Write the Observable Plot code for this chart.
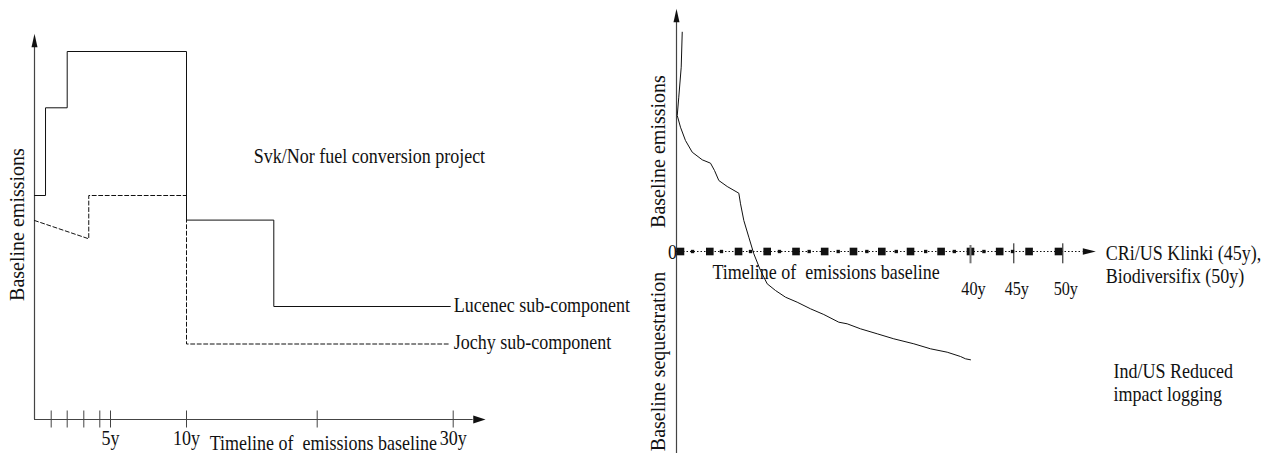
<!DOCTYPE html>
<html><head><meta charset="utf-8">
<script src="https://cdn.jsdelivr.net/npm/d3@7"></script>
<script src="https://cdn.jsdelivr.net/npm/@observablehq/plot@0.6"></script>
<style>
html,body{margin:0;padding:0;background:#fff;}
#wrap{display:flex;width:1279px;height:461px;overflow:hidden;}
svg text{white-space:pre;}
</style></head><body><div id="wrap"></div>
<script>
// ---------- LEFT CHART: Svk/Nor fuel conversion project (years, schematic emission units)
const leftBreakYears = [0, 1, 2, 3, 4, 5, 10, 20, 30];     // schematic (non-uniform) time axis
const leftTicks = [1, 2, 3, 4, 5, 10, 20, 30];
const leftTickLabels = [5, 10, 30];
const lucenecX = [0, 0.66, 2.0, 10, 16.68, 29.8];
const lucenecY = [22.4, 31.17, 36.8, 19.94, 11.3, 11.3];
const jochyX = [0, 3.31, 3.31, 10, 10, 29.8];
const jochyY = [19.9, 18.07, 22.4, 22.4, 7.55, 7.55];
const leftLabels = [
  {text: "Svk/Nor fuel conversion project", x: 15.15, y: 25.63},
  {text: "Lucenec sub-component", x: 30.04, y: 10.73},
  {text: "Jochy sub-component", x: 30.04, y: 7.07},
  {text: "Timeline of  emissions baseline", x: 11.78, y: -3.0}
];
const leftYTitle = {text: "Baseline emissions", x: -0.99, y: 19.5};
const leftAxisEnd = {xBase: 31.47, xTip: 32.38, yBase: 37.23, yTip: 38.57};

// ---------- RIGHT CHART: land-use projects (years, schematic emission / sequestration units)
const rightBreakYears = [0, 40, 45, 50];                    // schematic (non-uniform) time axis
const rightTickYears = [40, 45, 50];
const zeroSquares = [0.54, 4.53, 8.44, 12.34, 16.26, 20.16, 24.08, 27.93, 31.84, 36.0, 40, 43.37, 46.56, 49.56];
const zeroDots = [2.18, 6.12, 10.07, 14.01, 18.05, 22.0, 25.9, 29.9, 33.9, 37.8, 41.55, 44.85];
const loggingX = [0.78, 0.64, 0.31, 0.1, 0.54, 1.22, 2.14, 3.5, 4.63, 5.17, 5.76, 6.9, 8.48, 8.71, 9.16, 9.84, 10.52, 11.43, 12.34, 13.47, 14.83, 16.42, 18.23, 20.04, 22.08, 23.22, 25.03, 27.31, 29.56, 32.29, 34.56, 36.83, 38.64, 39.32, 40];
const loggingY = [21.93, 18.43, 15.43, 13.6, 12.43, 11.1, 9.93, 9.17, 8.83, 8.1, 7.1, 6.5, 5.83, 4.77, 3.1, 1.43, -0.23, -1.9, -3.23, -3.9, -4.57, -5.07, -5.73, -6.3, -7.07, -7.23, -7.73, -8.23, -8.73, -9.23, -9.73, -10.07, -10.5, -10.73, -10.83];
const rightZeroLabel = {text: "0", x: 0.07, y: -0.7};
const rightLabels = [
  {text: "Timeline of  emissions baseline", x: 4.9, y: -2.73},
  {text: "CRi/US Klinki (45y),", x: 54.39, y: -0.83},
  {text: "Biodiversifix (50y)", x: 54.39, y: -3.17},
  {text: "Ind/US Reduced", x: 55.17, y: -12.67},
  {text: "impact logging", x: 55.17, y: -14.9}
];
const rightYTitles = [
  {text: "Baseline emissions", x: -2.37, y: 10},
  {text: "Baseline sequestration", x: -2.37, y: -11}
];
const rightAxisEnd = {yBottom: -20.2, yBase: 22.93, yTip: 24.27, xBase: 52.04, xTip: 53.37};

// ---------- schematic time warps (years -> axis length units), used as Plot scale transforms
const leftWarp = d3.scaleLinear().domain(leftBreakYears).range([0, 16.7, 32.7, 49.3, 65.3, 76, 152, 282.7, 418.7]);
const rightWarp = d3.scaleLinear().domain(rightBreakYears).range([0, 294, 337.3, 386.3]);

// ---------- arrowhead symbols (filled triangles, tip at the point)
const arrowUp = {draw(ctx) { ctx.moveTo(0, 0); ctx.lineTo(3, 13.4); ctx.lineTo(-3, 13.4); ctx.closePath(); }};
const arrowRightL = {draw(ctx) { ctx.moveTo(0, 0); ctx.lineTo(-12.3, -4); ctx.lineTo(-12.3, 4); ctx.closePath(); }};
const arrowRightR = {draw(ctx) { ctx.moveTo(0, 0); ctx.lineTo(-13, -3.3); ctx.lineTo(-13, 3.3); ctx.closePath(); }};

const INK = "#111";
const AXIS = "#444";
const FONT = "Liberation Serif, Times New Roman, serif";

const left = Plot.plot({
  width: 640, height: 461,
  margin: 0,
  style: {fontFamily: FONT, fontSize: "20px", background: "white", color: INK, overflow: "visible"},
  x: {type: "linear", transform: leftWarp, domain: [0, 418.7], range: [34, 452.7], axis: null},
  y: {domain: [0, 40], range: [419, 19], axis: null},
  marks: [
    // axes
    Plot.ruleX([0], {x: d => d, y1: 0, y2: leftAxisEnd.yBase, stroke: AXIS, strokeWidth: 1.2}),
    Plot.ruleY([0], {x1: 0, x2: leftAxisEnd.xBase, stroke: AXIS, strokeWidth: 1.2}),
    Plot.dot([0], {x: 0, y: leftAxisEnd.yTip, symbol: arrowUp, fill: INK, stroke: null}),
    Plot.dot([0], {x: leftAxisEnd.xTip, y: 0, symbol: arrowRightL, fill: INK, stroke: null}),
    Plot.ruleX(leftTicks, {x: d => d, y1: -0.85, y2: 0.85, stroke: AXIS, strokeWidth: 1}),
    Plot.text(leftTickLabels, {x: d => d, y: 0, text: d => d + "y", dy: 25, lineAnchor: "bottom", fontSize: 20}),
    // series
    Plot.line(lucenecX, {x: lucenecX, y: lucenecY, curve: "step-after", stroke: INK, strokeWidth: 1}),
    Plot.line(jochyX, {x: jochyX, y: jochyY, stroke: INK, strokeWidth: 1, strokeDasharray: "4,2.5"}),
    // labels
    Plot.text(leftLabels, {x: "x", y: "y", text: "text", textAnchor: "start", lineAnchor: "bottom", fontSize: 20}),
    Plot.text([leftYTitle], {x: "x", y: "y", text: "text", rotate: -90, textAnchor: "middle", lineAnchor: "middle", fontSize: 20})
  ]
});

const right = Plot.plot({
  width: 639, height: 461,
  margin: 0,
  style: {fontFamily: FONT, fontSize: "20px", background: "white", color: INK, overflow: "visible"},
  x: {type: "linear", transform: rightWarp, domain: [0, 386.3], range: [36, 422.3], axis: null},
  y: {domain: [-20, 25], range: [451, 1], axis: null},
  marks: [
    // vertical axis
    Plot.ruleX([0], {x: d => d, y1: rightAxisEnd.yBottom, y2: rightAxisEnd.yBase, stroke: AXIS, strokeWidth: 1.2}),
    Plot.dot([0], {x: 0, y: rightAxisEnd.yTip, symbol: arrowUp, fill: INK, stroke: null}),
    // zero baseline (dotted) with markers
    Plot.ruleY([0], {x1: 0, x2: rightAxisEnd.xBase, stroke: INK, strokeWidth: 1, strokeDasharray: "1.5,2"}),
    Plot.dot([0], {x: rightAxisEnd.xTip, y: 0, symbol: arrowRightR, fill: INK, stroke: null}),
    Plot.dot(zeroSquares, {x: d => d, y: 0, symbol: "square", r: 4.3, fill: INK, stroke: null}),
    Plot.dot(zeroDots, {x: d => d, y: 0, symbol: "square", r: 1.9, fill: INK, stroke: null}),
    Plot.ruleX(rightTickYears, {x: d => d, y1: d => d === 40 ? 0.6 : 0.77, y2: -1.23, stroke: d => d === 40 ? "#777" : INK, strokeWidth: d => d === 40 ? 2 : 1}),
    Plot.text(rightTickYears, {x: d => d, y: 0, text: d => d + "y", dx: 3, dy: 43, lineAnchor: "bottom", fontSize: 18}),
    // logging curve
    Plot.line(loggingX, {x: loggingX, y: loggingY, stroke: INK, strokeWidth: 1}),
    // labels
    Plot.text([rightZeroLabel], {x: "x", y: "y", text: "text", textAnchor: "end", lineAnchor: "bottom", fontSize: 20}),
    Plot.text(rightLabels, {x: "x", y: "y", text: "text", textAnchor: "start", lineAnchor: "bottom", fontSize: 20}),
    Plot.text(rightYTitles, {x: "x", y: "y", text: "text", rotate: -90, textAnchor: "middle", lineAnchor: "middle", fontSize: 20})
  ]
});

const wrap = document.getElementById("wrap");
wrap.appendChild(left);
wrap.appendChild(right);

// the source figure's horizontal lettering is condensed to ~90% width
for (const svg of [left, right]) {
  d3.select(svg).selectAll("text").each(function() {
    const t = this.getAttribute("transform") || "";
    if (t.includes("rotate")) return;
    if (t) this.setAttribute("transform", t + " scale(0.9,1)");
  });
}
</script></body></html>
